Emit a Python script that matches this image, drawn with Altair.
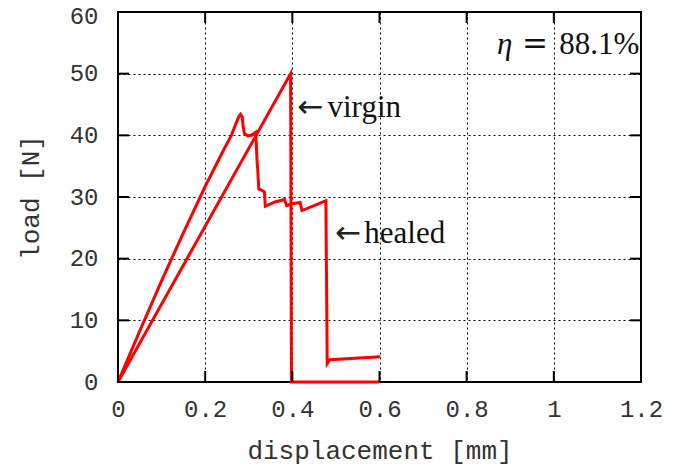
import altair as alt
import pandas as pd

# ---- data ----
virgin_x = [0.0, 0.396, 0.398, 0.600]
virgin_y = [0.0, 50.0, 0.0, 0.0]

healed_x = [0.0, 0.05, 0.10, 0.15, 0.20, 0.24, 0.260, 0.270, 0.277, 0.281, 0.285, 0.287,
            0.290, 0.298, 0.306, 0.316, 0.319, 0.321, 0.323, 0.330, 0.336, 0.338,
            0.360, 0.382, 0.387, 0.400, 0.418, 0.422, 0.450, 0.477, 0.480, 0.486, 0.602]
healed_y = [0.0, 8.3, 16.4, 24.2, 31.7, 37.3, 40.0, 41.8, 43.0, 43.4, 43.0, 41.5,
            40.3, 39.9, 40.0, 40.5, 36.0, 34.0, 31.3, 31.1, 30.8, 28.5,
            29.2, 29.6, 28.6, 28.9, 29.1, 27.8, 28.6, 29.4, 3.0, 3.6, 4.1]

x_ticks = [0, 0.2, 0.4, 0.6, 0.8, 1.0, 1.2]
y_ticks = [0, 10, 20, 30, 40, 50, 60]

# annotations (anchored in data units)
arrow_text = ["\u2190", "\u2190"]
arrow_x = [0.4116, 0.4983]
arrow_y = [43.0, 22.5]
word_text = ["virgin", "healed"]
word_x = [0.4807, 0.5652]
word_y = [43.0, 22.5]
eta_text = ["\u03b7"]
eta_x = [0.905]
eta_y = [53.2]
eq_text = ["="]
eq_x = [0.957]
eq_y = [53.2]
val_text = ["88.1%"]
val_x = [1.196]
val_y = [53.2]

# ---- tables ----
rows = []
for i, (a, b) in enumerate(zip(virgin_x, virgin_y)):
    rows.append({"series": "virgin", "i": i, "x": a, "y": b})
for i, (a, b) in enumerate(zip(healed_x, healed_y)):
    rows.append({"series": "healed", "i": i, "x": a, "y": b})
curves = pd.DataFrame(rows)

xt = pd.DataFrame({"x": x_ticks})
yt = pd.DataFrame({"y": y_ticks})


def tdf(t, x, y):
    return pd.DataFrame({"t": t, "x": x, "y": y})


W, H = 523, 370
TL = 11

xs = alt.Scale(domain=[0, 1.2], nice=False, zero=False)
ys = alt.Scale(domain=[0, 60], nice=False)

x_axis = alt.Axis(values=x_ticks, format="~g", title="displacement [mm]",
                  labelPadding=15, titlePadding=16, labelFlush=False)
y_axis = alt.Axis(values=y_ticks, title="load [N]", labelPadding=20, titlePadding=26,
                  labelFlush=False,
                  labelOffset={"condition": {"test": "datum.value == 60", "value": 4}, "value": 0})

X = alt.X("x:Q", scale=xs, axis=x_axis)
Y = alt.Y("y:Q", scale=ys, axis=y_axis)

lines = alt.Chart(curves).mark_line(color="#ff0000", strokeWidth=3, clip=False).encode(
    x=X, y=Y, detail="series:N", order="i:Q"
)

tick_style = dict(color="black", strokeWidth=2)
left_t = alt.Chart(yt).mark_rule(**tick_style).encode(y=Y, x=alt.value(0), x2=alt.value(TL))
right_t = alt.Chart(yt).mark_rule(**tick_style).encode(y=Y, x=alt.value(W - TL), x2=alt.value(W))
bot_t = alt.Chart(xt).mark_rule(**tick_style).encode(x=X, y=alt.value(H), y2=alt.value(H - TL))
top_t = alt.Chart(xt).mark_rule(**tick_style).encode(x=X, y=alt.value(0), y2=alt.value(TL))

serif = dict(font="Liberation Serif", fontSize=31, baseline="alphabetic", color="#111")

arrows = alt.Chart(tdf(arrow_text, arrow_x, arrow_y)).mark_text(
    font="DejaVu Sans", fontSize=31, baseline="alphabetic", align="left", color="#222"
).encode(x=X, y=Y, text="t:N")
words = alt.Chart(tdf(word_text, word_x, word_y)).mark_text(align="left", **serif).encode(
    x=X, y=Y, text="t:N")
eta_l = alt.Chart(tdf(eta_text, eta_x, eta_y)).mark_text(
    align="right", fontStyle="italic", **serif).encode(x=X, y=Y, text="t:N")
eq_l = alt.Chart(tdf(eq_text, eq_x, eq_y)).mark_text(
    align="center", font="DejaVu Serif", fontSize=31, baseline="alphabetic", color="#111"
).encode(x=X, y=Y, text="t:N")
val_l = alt.Chart(tdf(val_text, val_x, val_y)).mark_text(align="right", **serif).encode(
    x=X, y=Y, text="t:N")

chart = alt.layer(lines, left_t, right_t, bot_t, top_t, arrows, words, eta_l, eq_l, val_l).properties(
    width=W, height=H, autosize="none",
    padding={"left": 110, "top": 4, "right": 26, "bottom": 84},
    background="white",
).configure_view(
    stroke="black", strokeWidth=2
).configure_axis(
    grid=True, gridColor="black", gridDash=[2, 3], gridWidth=1, gridOpacity=1,
    domain=False, ticks=False,
    labelFont="Liberation Mono", labelFontSize=24, labelColor="#333",
    titleFont="Liberation Mono", titleFontSize=26, titleFontWeight="normal", titleColor="#333",
)

chart.save("out.html", embed_options={"renderer": "svg", "actions": False})
